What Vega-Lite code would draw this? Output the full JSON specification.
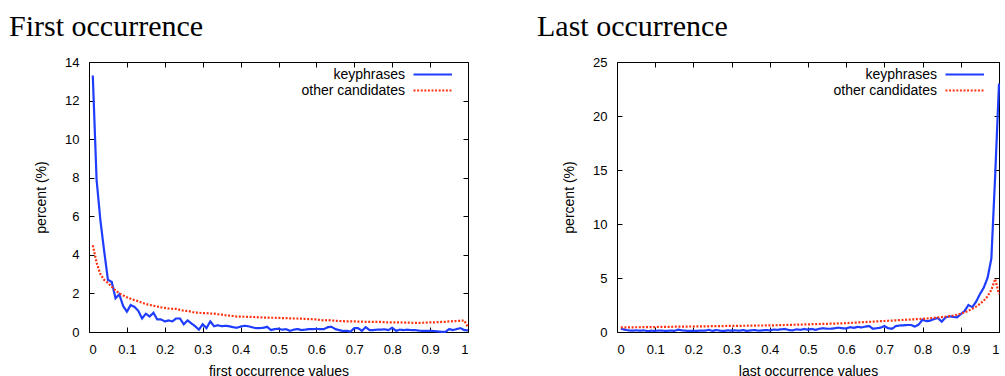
{
  "$schema": "https://vega.github.io/schema/vega-lite/v6.json",
  "padding": {"left": 8, "top": 11, "right": 0, "bottom": 0},
  "datasets": {
    "first": [
      {"x":0.01,"pct":13.3,"series":"keyphrases"},{"x":0.02,"pct":7.9,"series":"keyphrases"},{"x":0.03,"pct":5.8,"series":"keyphrases"},{"x":0.04,"pct":4.2,"series":"keyphrases"},{"x":0.05,"pct":2.7,"series":"keyphrases"},{"x":0.06,"pct":2.6,"series":"keyphrases"},{"x":0.07,"pct":1.75,"series":"keyphrases"},{"x":0.08,"pct":1.95,"series":"keyphrases"},{"x":0.09,"pct":1.35,"series":"keyphrases"},{"x":0.1,"pct":1.05,"series":"keyphrases"},
      {"x":0.11,"pct":1.4,"series":"keyphrases"},{"x":0.12,"pct":1.3,"series":"keyphrases"},{"x":0.13,"pct":1.1,"series":"keyphrases"},{"x":0.14,"pct":0.7,"series":"keyphrases"},{"x":0.15,"pct":0.95,"series":"keyphrases"},{"x":0.16,"pct":0.8,"series":"keyphrases"},{"x":0.17,"pct":1.0,"series":"keyphrases"},{"x":0.18,"pct":0.65,"series":"keyphrases"},{"x":0.19,"pct":0.65,"series":"keyphrases"},{"x":0.2,"pct":0.55,"series":"keyphrases"},
      {"x":0.21,"pct":0.6,"series":"keyphrases"},{"x":0.22,"pct":0.55,"series":"keyphrases"},{"x":0.23,"pct":0.7,"series":"keyphrases"},{"x":0.24,"pct":0.7,"series":"keyphrases"},{"x":0.25,"pct":0.4,"series":"keyphrases"},{"x":0.26,"pct":0.6,"series":"keyphrases"},{"x":0.27,"pct":0.45,"series":"keyphrases"},{"x":0.28,"pct":0.3,"series":"keyphrases"},{"x":0.29,"pct":0.12,"series":"keyphrases"},{"x":0.3,"pct":0.4,"series":"keyphrases"},
      {"x":0.31,"pct":0.2,"series":"keyphrases"},{"x":0.32,"pct":0.55,"series":"keyphrases"},{"x":0.33,"pct":0.3,"series":"keyphrases"},{"x":0.34,"pct":0.35,"series":"keyphrases"},{"x":0.35,"pct":0.3,"series":"keyphrases"},{"x":0.36,"pct":0.32,"series":"keyphrases"},{"x":0.37,"pct":0.3,"series":"keyphrases"},{"x":0.38,"pct":0.25,"series":"keyphrases"},{"x":0.39,"pct":0.22,"series":"keyphrases"},{"x":0.4,"pct":0.28,"series":"keyphrases"},
      {"x":0.41,"pct":0.32,"series":"keyphrases"},{"x":0.42,"pct":0.3,"series":"keyphrases"},{"x":0.43,"pct":0.25,"series":"keyphrases"},{"x":0.44,"pct":0.2,"series":"keyphrases"},{"x":0.45,"pct":0.2,"series":"keyphrases"},{"x":0.46,"pct":0.22,"series":"keyphrases"},{"x":0.47,"pct":0.27,"series":"keyphrases"},{"x":0.48,"pct":0.1,"series":"keyphrases"},{"x":0.49,"pct":0.15,"series":"keyphrases"},{"x":0.5,"pct":0.17,"series":"keyphrases"},
      {"x":0.51,"pct":0.12,"series":"keyphrases"},{"x":0.52,"pct":0.15,"series":"keyphrases"},{"x":0.53,"pct":0.06,"series":"keyphrases"},{"x":0.54,"pct":0.12,"series":"keyphrases"},{"x":0.55,"pct":0.15,"series":"keyphrases"},{"x":0.56,"pct":0.1,"series":"keyphrases"},{"x":0.57,"pct":0.12,"series":"keyphrases"},{"x":0.58,"pct":0.15,"series":"keyphrases"},{"x":0.59,"pct":0.15,"series":"keyphrases"},{"x":0.6,"pct":0.16,"series":"keyphrases"},
      {"x":0.61,"pct":0.15,"series":"keyphrases"},{"x":0.62,"pct":0.15,"series":"keyphrases"},{"x":0.63,"pct":0.25,"series":"keyphrases"},{"x":0.64,"pct":0.27,"series":"keyphrases"},{"x":0.65,"pct":0.15,"series":"keyphrases"},{"x":0.66,"pct":0.1,"series":"keyphrases"},{"x":0.67,"pct":0.05,"series":"keyphrases"},{"x":0.68,"pct":0.06,"series":"keyphrases"},{"x":0.69,"pct":0.02,"series":"keyphrases"},{"x":0.7,"pct":0.2,"series":"keyphrases"},
      {"x":0.71,"pct":0.2,"series":"keyphrases"},{"x":0.72,"pct":0.06,"series":"keyphrases"},{"x":0.73,"pct":0.25,"series":"keyphrases"},{"x":0.74,"pct":0.1,"series":"keyphrases"},{"x":0.75,"pct":0.1,"series":"keyphrases"},{"x":0.76,"pct":0.12,"series":"keyphrases"},{"x":0.77,"pct":0.12,"series":"keyphrases"},{"x":0.78,"pct":0.14,"series":"keyphrases"},{"x":0.79,"pct":0.1,"series":"keyphrases"},{"x":0.8,"pct":0.22,"series":"keyphrases"},
      {"x":0.81,"pct":0.06,"series":"keyphrases"},{"x":0.82,"pct":0.12,"series":"keyphrases"},{"x":0.83,"pct":0.1,"series":"keyphrases"},{"x":0.84,"pct":0.12,"series":"keyphrases"},{"x":0.85,"pct":0.1,"series":"keyphrases"},{"x":0.86,"pct":0.1,"series":"keyphrases"},{"x":0.87,"pct":0.07,"series":"keyphrases"},{"x":0.88,"pct":0.06,"series":"keyphrases"},{"x":0.89,"pct":0.06,"series":"keyphrases"},{"x":0.9,"pct":0.06,"series":"keyphrases"},
      {"x":0.91,"pct":0.05,"series":"keyphrases"},{"x":0.92,"pct":0.03,"series":"keyphrases"},{"x":0.93,"pct":0.01,"series":"keyphrases"},{"x":0.94,"pct":0.0,"series":"keyphrases"},{"x":0.95,"pct":0.15,"series":"keyphrases"},{"x":0.96,"pct":0.1,"series":"keyphrases"},{"x":0.97,"pct":0.15,"series":"keyphrases"},{"x":0.98,"pct":0.2,"series":"keyphrases"},{"x":0.99,"pct":0.1,"series":"keyphrases"},{"x":1.0,"pct":0.08,"series":"keyphrases"},
      {"x":0.01,"pct":4.5,"series":"other candidates"},{"x":0.02,"pct":3.6,"series":"other candidates"},{"x":0.03,"pct":3.0,"series":"other candidates"},{"x":0.04,"pct":2.7,"series":"other candidates"},{"x":0.05,"pct":2.55,"series":"other candidates"},{"x":0.06,"pct":2.35,"series":"other candidates"},{"x":0.07,"pct":2.15,"series":"other candidates"},{"x":0.08,"pct":2.0,"series":"other candidates"},{"x":0.09,"pct":1.9,"series":"other candidates"},{"x":0.1,"pct":1.8,"series":"other candidates"},
      {"x":0.11,"pct":1.72,"series":"other candidates"},{"x":0.12,"pct":1.65,"series":"other candidates"},{"x":0.13,"pct":1.6,"series":"other candidates"},{"x":0.14,"pct":1.52,"series":"other candidates"},{"x":0.15,"pct":1.45,"series":"other candidates"},{"x":0.16,"pct":1.4,"series":"other candidates"},{"x":0.17,"pct":1.36,"series":"other candidates"},{"x":0.18,"pct":1.32,"series":"other candidates"},{"x":0.19,"pct":1.28,"series":"other candidates"},{"x":0.2,"pct":1.25,"series":"other candidates"},
      {"x":0.21,"pct":1.22,"series":"other candidates"},{"x":0.22,"pct":1.2,"series":"other candidates"},{"x":0.23,"pct":1.2,"series":"other candidates"},{"x":0.24,"pct":1.15,"series":"other candidates"},{"x":0.25,"pct":1.1,"series":"other candidates"},{"x":0.26,"pct":1.1,"series":"other candidates"},{"x":0.27,"pct":1.05,"series":"other candidates"},{"x":0.28,"pct":1.0,"series":"other candidates"},{"x":0.29,"pct":1.0,"series":"other candidates"},{"x":0.3,"pct":0.98,"series":"other candidates"},
      {"x":0.31,"pct":0.98,"series":"other candidates"},{"x":0.32,"pct":0.96,"series":"other candidates"},{"x":0.33,"pct":0.95,"series":"other candidates"},{"x":0.34,"pct":0.92,"series":"other candidates"},{"x":0.35,"pct":0.9,"series":"other candidates"},{"x":0.36,"pct":0.87,"series":"other candidates"},{"x":0.37,"pct":0.85,"series":"other candidates"},{"x":0.38,"pct":0.83,"series":"other candidates"},{"x":0.39,"pct":0.8,"series":"other candidates"},{"x":0.4,"pct":0.8,"series":"other candidates"},
      {"x":0.41,"pct":0.79,"series":"other candidates"},{"x":0.42,"pct":0.78,"series":"other candidates"},{"x":0.43,"pct":0.78,"series":"other candidates"},{"x":0.44,"pct":0.77,"series":"other candidates"},{"x":0.45,"pct":0.76,"series":"other candidates"},{"x":0.46,"pct":0.75,"series":"other candidates"},{"x":0.47,"pct":0.75,"series":"other candidates"},{"x":0.48,"pct":0.74,"series":"other candidates"},{"x":0.49,"pct":0.74,"series":"other candidates"},{"x":0.5,"pct":0.73,"series":"other candidates"},
      {"x":0.51,"pct":0.72,"series":"other candidates"},{"x":0.52,"pct":0.72,"series":"other candidates"},{"x":0.53,"pct":0.71,"series":"other candidates"},{"x":0.54,"pct":0.7,"series":"other candidates"},{"x":0.55,"pct":0.7,"series":"other candidates"},{"x":0.56,"pct":0.69,"series":"other candidates"},{"x":0.57,"pct":0.68,"series":"other candidates"},{"x":0.58,"pct":0.67,"series":"other candidates"},{"x":0.59,"pct":0.66,"series":"other candidates"},{"x":0.6,"pct":0.65,"series":"other candidates"},
      {"x":0.61,"pct":0.62,"series":"other candidates"},{"x":0.62,"pct":0.6,"series":"other candidates"},{"x":0.63,"pct":0.62,"series":"other candidates"},{"x":0.64,"pct":0.6,"series":"other candidates"},{"x":0.65,"pct":0.58,"series":"other candidates"},{"x":0.66,"pct":0.57,"series":"other candidates"},{"x":0.67,"pct":0.56,"series":"other candidates"},{"x":0.68,"pct":0.55,"series":"other candidates"},{"x":0.69,"pct":0.55,"series":"other candidates"},{"x":0.7,"pct":0.55,"series":"other candidates"},
      {"x":0.71,"pct":0.54,"series":"other candidates"},{"x":0.72,"pct":0.54,"series":"other candidates"},{"x":0.73,"pct":0.53,"series":"other candidates"},{"x":0.74,"pct":0.53,"series":"other candidates"},{"x":0.75,"pct":0.52,"series":"other candidates"},{"x":0.76,"pct":0.52,"series":"other candidates"},{"x":0.77,"pct":0.52,"series":"other candidates"},{"x":0.78,"pct":0.51,"series":"other candidates"},{"x":0.79,"pct":0.5,"series":"other candidates"},{"x":0.8,"pct":0.5,"series":"other candidates"},
      {"x":0.81,"pct":0.5,"series":"other candidates"},{"x":0.82,"pct":0.5,"series":"other candidates"},{"x":0.83,"pct":0.49,"series":"other candidates"},{"x":0.84,"pct":0.49,"series":"other candidates"},{"x":0.85,"pct":0.48,"series":"other candidates"},{"x":0.86,"pct":0.47,"series":"other candidates"},{"x":0.87,"pct":0.47,"series":"other candidates"},{"x":0.88,"pct":0.48,"series":"other candidates"},{"x":0.89,"pct":0.49,"series":"other candidates"},{"x":0.9,"pct":0.5,"series":"other candidates"},
      {"x":0.91,"pct":0.5,"series":"other candidates"},{"x":0.92,"pct":0.51,"series":"other candidates"},{"x":0.93,"pct":0.52,"series":"other candidates"},{"x":0.94,"pct":0.53,"series":"other candidates"},{"x":0.95,"pct":0.55,"series":"other candidates"},{"x":0.96,"pct":0.56,"series":"other candidates"},{"x":0.97,"pct":0.57,"series":"other candidates"},{"x":0.98,"pct":0.58,"series":"other candidates"},{"x":0.99,"pct":0.6,"series":"other candidates"},{"x":1.0,"pct":0.25,"series":"other candidates"}
    ],
    "last": [
      {"x":0.01,"pct":0.3,"series":"keyphrases"},{"x":0.02,"pct":0.22,"series":"keyphrases"},{"x":0.03,"pct":0.15,"series":"keyphrases"},{"x":0.04,"pct":0.12,"series":"keyphrases"},{"x":0.05,"pct":0.15,"series":"keyphrases"},{"x":0.06,"pct":0.12,"series":"keyphrases"},{"x":0.07,"pct":0.15,"series":"keyphrases"},{"x":0.08,"pct":0.08,"series":"keyphrases"},{"x":0.09,"pct":0.12,"series":"keyphrases"},{"x":0.1,"pct":0.1,"series":"keyphrases"},
      {"x":0.11,"pct":0.14,"series":"keyphrases"},{"x":0.12,"pct":0.12,"series":"keyphrases"},{"x":0.13,"pct":0.1,"series":"keyphrases"},{"x":0.14,"pct":0.14,"series":"keyphrases"},{"x":0.15,"pct":0.1,"series":"keyphrases"},{"x":0.16,"pct":0.22,"series":"keyphrases"},{"x":0.17,"pct":0.15,"series":"keyphrases"},{"x":0.18,"pct":0.12,"series":"keyphrases"},{"x":0.19,"pct":0.1,"series":"keyphrases"},{"x":0.2,"pct":0.12,"series":"keyphrases"},
      {"x":0.21,"pct":0.1,"series":"keyphrases"},{"x":0.22,"pct":0.14,"series":"keyphrases"},{"x":0.23,"pct":0.12,"series":"keyphrases"},{"x":0.24,"pct":0.2,"series":"keyphrases"},{"x":0.25,"pct":0.1,"series":"keyphrases"},{"x":0.26,"pct":0.18,"series":"keyphrases"},{"x":0.27,"pct":0.12,"series":"keyphrases"},{"x":0.28,"pct":0.1,"series":"keyphrases"},{"x":0.29,"pct":0.15,"series":"keyphrases"},{"x":0.3,"pct":0.12,"series":"keyphrases"},
      {"x":0.31,"pct":0.15,"series":"keyphrases"},{"x":0.32,"pct":0.12,"series":"keyphrases"},{"x":0.33,"pct":0.18,"series":"keyphrases"},{"x":0.34,"pct":0.1,"series":"keyphrases"},{"x":0.35,"pct":0.15,"series":"keyphrases"},{"x":0.36,"pct":0.18,"series":"keyphrases"},{"x":0.37,"pct":0.12,"series":"keyphrases"},{"x":0.38,"pct":0.15,"series":"keyphrases"},{"x":0.39,"pct":0.18,"series":"keyphrases"},{"x":0.4,"pct":0.15,"series":"keyphrases"},
      {"x":0.41,"pct":0.22,"series":"keyphrases"},{"x":0.42,"pct":0.2,"series":"keyphrases"},{"x":0.43,"pct":0.25,"series":"keyphrases"},{"x":0.44,"pct":0.28,"series":"keyphrases"},{"x":0.45,"pct":0.18,"series":"keyphrases"},{"x":0.46,"pct":0.15,"series":"keyphrases"},{"x":0.47,"pct":0.25,"series":"keyphrases"},{"x":0.48,"pct":0.2,"series":"keyphrases"},{"x":0.49,"pct":0.28,"series":"keyphrases"},{"x":0.5,"pct":0.22,"series":"keyphrases"},
      {"x":0.51,"pct":0.28,"series":"keyphrases"},{"x":0.52,"pct":0.2,"series":"keyphrases"},{"x":0.53,"pct":0.3,"series":"keyphrases"},{"x":0.54,"pct":0.35,"series":"keyphrases"},{"x":0.55,"pct":0.3,"series":"keyphrases"},{"x":0.56,"pct":0.3,"series":"keyphrases"},{"x":0.57,"pct":0.35,"series":"keyphrases"},{"x":0.58,"pct":0.4,"series":"keyphrases"},{"x":0.59,"pct":0.35,"series":"keyphrases"},{"x":0.6,"pct":0.32,"series":"keyphrases"},
      {"x":0.61,"pct":0.45,"series":"keyphrases"},{"x":0.62,"pct":0.38,"series":"keyphrases"},{"x":0.63,"pct":0.48,"series":"keyphrases"},{"x":0.64,"pct":0.42,"series":"keyphrases"},{"x":0.65,"pct":0.5,"series":"keyphrases"},{"x":0.66,"pct":0.55,"series":"keyphrases"},{"x":0.67,"pct":0.3,"series":"keyphrases"},{"x":0.68,"pct":0.35,"series":"keyphrases"},{"x":0.69,"pct":0.4,"series":"keyphrases"},{"x":0.7,"pct":0.55,"series":"keyphrases"},
      {"x":0.71,"pct":0.35,"series":"keyphrases"},{"x":0.72,"pct":0.3,"series":"keyphrases"},{"x":0.73,"pct":0.55,"series":"keyphrases"},{"x":0.74,"pct":0.6,"series":"keyphrases"},{"x":0.75,"pct":0.62,"series":"keyphrases"},{"x":0.76,"pct":0.65,"series":"keyphrases"},{"x":0.77,"pct":0.65,"series":"keyphrases"},{"x":0.78,"pct":0.5,"series":"keyphrases"},{"x":0.79,"pct":0.7,"series":"keyphrases"},{"x":0.8,"pct":1.15,"series":"keyphrases"},
      {"x":0.81,"pct":1.0,"series":"keyphrases"},{"x":0.82,"pct":1.05,"series":"keyphrases"},{"x":0.83,"pct":1.2,"series":"keyphrases"},{"x":0.84,"pct":1.3,"series":"keyphrases"},{"x":0.85,"pct":0.95,"series":"keyphrases"},{"x":0.86,"pct":1.35,"series":"keyphrases"},{"x":0.87,"pct":1.45,"series":"keyphrases"},{"x":0.88,"pct":1.4,"series":"keyphrases"},{"x":0.89,"pct":1.35,"series":"keyphrases"},{"x":0.9,"pct":1.65,"series":"keyphrases"},
      {"x":0.91,"pct":1.95,"series":"keyphrases"},{"x":0.92,"pct":2.5,"series":"keyphrases"},{"x":0.93,"pct":2.3,"series":"keyphrases"},{"x":0.94,"pct":2.8,"series":"keyphrases"},{"x":0.95,"pct":3.5,"series":"keyphrases"},{"x":0.96,"pct":4.1,"series":"keyphrases"},{"x":0.97,"pct":5.0,"series":"keyphrases"},{"x":0.98,"pct":6.8,"series":"keyphrases"},{"x":0.99,"pct":14.5,"series":"keyphrases"},{"x":1.0,"pct":23.0,"series":"keyphrases"},
      {"x":0.01,"pct":0.42,"series":"other candidates"},{"x":0.02,"pct":0.42,"series":"other candidates"},{"x":0.03,"pct":0.43,"series":"other candidates"},{"x":0.04,"pct":0.43,"series":"other candidates"},{"x":0.05,"pct":0.44,"series":"other candidates"},{"x":0.06,"pct":0.44,"series":"other candidates"},{"x":0.07,"pct":0.45,"series":"other candidates"},{"x":0.08,"pct":0.45,"series":"other candidates"},{"x":0.09,"pct":0.46,"series":"other candidates"},{"x":0.1,"pct":0.46,"series":"other candidates"},
      {"x":0.11,"pct":0.47,"series":"other candidates"},{"x":0.12,"pct":0.47,"series":"other candidates"},{"x":0.13,"pct":0.48,"series":"other candidates"},{"x":0.14,"pct":0.48,"series":"other candidates"},{"x":0.15,"pct":0.49,"series":"other candidates"},{"x":0.16,"pct":0.49,"series":"other candidates"},{"x":0.17,"pct":0.5,"series":"other candidates"},{"x":0.18,"pct":0.5,"series":"other candidates"},{"x":0.19,"pct":0.51,"series":"other candidates"},{"x":0.2,"pct":0.51,"series":"other candidates"},
      {"x":0.21,"pct":0.52,"series":"other candidates"},{"x":0.22,"pct":0.52,"series":"other candidates"},{"x":0.23,"pct":0.53,"series":"other candidates"},{"x":0.24,"pct":0.53,"series":"other candidates"},{"x":0.25,"pct":0.54,"series":"other candidates"},{"x":0.26,"pct":0.54,"series":"other candidates"},{"x":0.27,"pct":0.55,"series":"other candidates"},{"x":0.28,"pct":0.55,"series":"other candidates"},{"x":0.29,"pct":0.56,"series":"other candidates"},{"x":0.3,"pct":0.56,"series":"other candidates"},
      {"x":0.31,"pct":0.57,"series":"other candidates"},{"x":0.32,"pct":0.57,"series":"other candidates"},{"x":0.33,"pct":0.58,"series":"other candidates"},{"x":0.34,"pct":0.58,"series":"other candidates"},{"x":0.35,"pct":0.59,"series":"other candidates"},{"x":0.36,"pct":0.59,"series":"other candidates"},{"x":0.37,"pct":0.6,"series":"other candidates"},{"x":0.38,"pct":0.6,"series":"other candidates"},{"x":0.39,"pct":0.61,"series":"other candidates"},{"x":0.4,"pct":0.62,"series":"other candidates"},
      {"x":0.41,"pct":0.62,"series":"other candidates"},{"x":0.42,"pct":0.63,"series":"other candidates"},{"x":0.43,"pct":0.64,"series":"other candidates"},{"x":0.44,"pct":0.65,"series":"other candidates"},{"x":0.45,"pct":0.66,"series":"other candidates"},{"x":0.46,"pct":0.67,"series":"other candidates"},{"x":0.47,"pct":0.68,"series":"other candidates"},{"x":0.48,"pct":0.69,"series":"other candidates"},{"x":0.49,"pct":0.7,"series":"other candidates"},{"x":0.5,"pct":0.71,"series":"other candidates"},
      {"x":0.51,"pct":0.72,"series":"other candidates"},{"x":0.52,"pct":0.73,"series":"other candidates"},{"x":0.53,"pct":0.74,"series":"other candidates"},{"x":0.54,"pct":0.75,"series":"other candidates"},{"x":0.55,"pct":0.76,"series":"other candidates"},{"x":0.56,"pct":0.77,"series":"other candidates"},{"x":0.57,"pct":0.78,"series":"other candidates"},{"x":0.58,"pct":0.79,"series":"other candidates"},{"x":0.59,"pct":0.8,"series":"other candidates"},{"x":0.6,"pct":0.82,"series":"other candidates"},
      {"x":0.61,"pct":0.84,"series":"other candidates"},{"x":0.62,"pct":0.86,"series":"other candidates"},{"x":0.63,"pct":0.88,"series":"other candidates"},{"x":0.64,"pct":0.9,"series":"other candidates"},{"x":0.65,"pct":0.92,"series":"other candidates"},{"x":0.66,"pct":0.94,"series":"other candidates"},{"x":0.67,"pct":0.96,"series":"other candidates"},{"x":0.68,"pct":0.98,"series":"other candidates"},{"x":0.69,"pct":1.0,"series":"other candidates"},{"x":0.7,"pct":1.02,"series":"other candidates"},
      {"x":0.71,"pct":1.04,"series":"other candidates"},{"x":0.72,"pct":1.06,"series":"other candidates"},{"x":0.73,"pct":1.08,"series":"other candidates"},{"x":0.74,"pct":1.1,"series":"other candidates"},{"x":0.75,"pct":1.12,"series":"other candidates"},{"x":0.76,"pct":1.14,"series":"other candidates"},{"x":0.77,"pct":1.16,"series":"other candidates"},{"x":0.78,"pct":1.18,"series":"other candidates"},{"x":0.79,"pct":1.2,"series":"other candidates"},{"x":0.8,"pct":1.22,"series":"other candidates"},
      {"x":0.81,"pct":1.25,"series":"other candidates"},{"x":0.82,"pct":1.28,"series":"other candidates"},{"x":0.83,"pct":1.31,"series":"other candidates"},{"x":0.84,"pct":1.34,"series":"other candidates"},{"x":0.85,"pct":1.38,"series":"other candidates"},{"x":0.86,"pct":1.42,"series":"other candidates"},{"x":0.87,"pct":1.47,"series":"other candidates"},{"x":0.88,"pct":1.53,"series":"other candidates"},{"x":0.89,"pct":1.6,"series":"other candidates"},{"x":0.9,"pct":1.7,"series":"other candidates"},
      {"x":0.91,"pct":1.82,"series":"other candidates"},{"x":0.92,"pct":1.97,"series":"other candidates"},{"x":0.93,"pct":2.15,"series":"other candidates"},{"x":0.94,"pct":2.35,"series":"other candidates"},{"x":0.95,"pct":2.6,"series":"other candidates"},{"x":0.96,"pct":2.9,"series":"other candidates"},{"x":0.97,"pct":3.3,"series":"other candidates"},{"x":0.98,"pct":3.9,"series":"other candidates"},{"x":0.99,"pct":4.9,"series":"other candidates"},{"x":1.0,"pct":3.5,"series":"other candidates"}
    ]
  },
  "config": {
    "view": {"stroke": "black", "strokeWidth": 1},
    "font": "Liberation Sans",
    "axis": {"domain": false, "grid": false, "tickColor": "black", "tickSize": -5, "labelFontSize": 13, "labelColor": "black", "titleFontSize": 14, "titleFontWeight": "normal", "titleColor": "black", "labelFont": "Liberation Sans", "titleFont": "Liberation Sans", "titlePadding": 8},
    "axisX": {"labelPadding": 16},
    "axisY": {"labelPadding": 15, "titlePadding": 16},
    "title": {"font": "Liberation Serif", "fontSize": 30, "fontWeight": "normal", "anchor": "start", "color": "black", "frame": "group"},
    "legend": {"orient": "none", "title": null, "symbolSize": 196, "symbolStrokeWidth": 2.2, "labelAlign": "right", "labelOffset": -17, "labelFontSize": 14, "labelFont": "Liberation Sans", "labelColor": "black", "rowPadding": -1, "padding": 0}
  },
  "resolve": {"legend": {"color": "independent", "strokeDash": "independent"}},
  "spacing": 63,
  "hconcat": [
    {
      "title": {"text": "First occurrence", "dx": -80, "offset": 14},
      "width": 379, "height": 270,
      "data": {"name": "first"},
      "layer": [
        {
          "mark": {"type": "line", "strokeWidth": 2.2},
          "encoding": {
            "x": {"field": "x", "type": "quantitative", "scale": {"domain": [0, 1], "nice": false}, "axis": {"title": "first occurrence values", "values": [0,0.1,0.2,0.3,0.4,0.5,0.6,0.7,0.8,0.9,1], "format": "~g"}},
            "y": {"field": "pct", "type": "quantitative", "scale": {"domain": [0, 14], "nice": false}, "axis": {"title": "percent (%)", "values": [0,2,4,6,8,10,12,14]}},
            "color": {"field": "series", "type": "nominal", "scale": {"domain": ["keyphrases", "other candidates"], "range": ["#1f3dff", "#ff3311"]}, "legend": {"legendX": 316, "legendY": 4, "symbolType": "M0,0H5.5"}},
            "strokeDash": {"field": "series", "type": "nominal", "scale": {"domain": ["keyphrases", "other candidates"], "range": [[1, 0], [2, 1.6]]}, "legend": {"legendX": 316, "legendY": 4, "symbolType": "M0,0H5.5"}}
          }
        },
        {
          "mark": {"type": "line", "opacity": 0},
          "encoding": {
            "x": {"field": "x", "type": "quantitative", "axis": {"orient": "top", "labels": false, "title": null, "values": [0,0.1,0.2,0.3,0.4,0.5,0.6,0.7,0.8,0.9,1]}},
            "y": {"field": "pct", "type": "quantitative", "axis": {"orient": "right", "labels": false, "title": null, "values": [0,2,4,6,8,10,12,14]}},
            "detail": {"field": "series"}
          }
        }
      ],
      "resolve": {"axis": {"x": "independent", "y": "independent"}}
    },
    {
      "title": {"text": "Last occurrence", "dx": -80, "offset": 14},
      "width": 382, "height": 270,
      "data": {"name": "last"},
      "layer": [
        {
          "mark": {"type": "line", "strokeWidth": 2.2},
          "encoding": {
            "x": {"field": "x", "type": "quantitative", "scale": {"domain": [0, 1], "nice": false}, "axis": {"title": "last occurrence values", "values": [0,0.1,0.2,0.3,0.4,0.5,0.6,0.7,0.8,0.9,1], "format": "~g"}},
            "y": {"field": "pct", "type": "quantitative", "scale": {"domain": [0, 25], "nice": false}, "axis": {"title": "percent (%)", "values": [0,5,10,15,20,25]}},
            "color": {"field": "series", "type": "nominal", "scale": {"domain": ["keyphrases", "other candidates"], "range": ["#1f3dff", "#ff3311"]}, "legend": {"legendX": 320, "legendY": 4, "symbolType": "M0,0H5.5"}},
            "strokeDash": {"field": "series", "type": "nominal", "scale": {"domain": ["keyphrases", "other candidates"], "range": [[1, 0], [2, 1.6]]}, "legend": {"legendX": 320, "legendY": 4, "symbolType": "M0,0H5.5"}}
          }
        },
        {
          "mark": {"type": "line", "opacity": 0},
          "encoding": {
            "x": {"field": "x", "type": "quantitative", "axis": {"orient": "top", "labels": false, "title": null, "values": [0,0.1,0.2,0.3,0.4,0.5,0.6,0.7,0.8,0.9,1]}},
            "y": {"field": "pct", "type": "quantitative", "axis": {"orient": "right", "labels": false, "title": null, "values": [0,5,10,15,20,25]}},
            "detail": {"field": "series"}
          }
        }
      ],
      "resolve": {"axis": {"x": "independent", "y": "independent"}}
    }
  ]
}
